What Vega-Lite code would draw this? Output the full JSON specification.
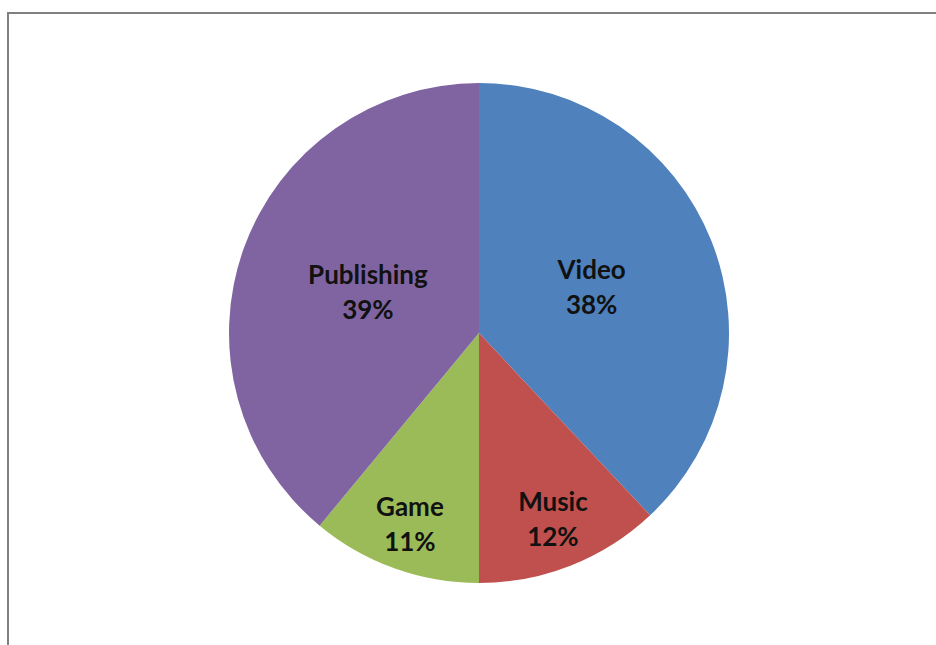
{
  "$schema": "https://vega.github.io/schema/vega-lite/v6.json",
  "width": 942,
  "height": 640,
  "autosize": {"type": "none"},
  "padding": {"left": 8, "top": 13, "right": 0, "bottom": 0},
  "background": "white",
  "view": {"stroke": "#808080", "strokeWidth": 2, "fill": "white"},
  "data": {"values": [
    {"category": "Video", "pct": 0.38},
    {"category": "Music", "pct": 0.12},
    {"category": "Game", "pct": 0.11},
    {"category": "Publishing", "pct": 0.39}
  ]},
  "transform": [{"window": [{"op": "row_number", "as": "idx"}]}],
  "encoding": {
    "theta": {"field": "pct", "type": "quantitative", "stack": true},
    "order": {"field": "idx", "type": "quantitative", "sort": "ascending"}
  },
  "layer": [
    {
      "mark": {"type": "arc", "outerRadius": 250},
      "encoding": {
        "color": {
          "field": "category", "type": "nominal",
          "scale": {"domain": ["Video", "Music", "Game", "Publishing"], "range": ["#4F81BD", "#C0504D", "#9BBB59", "#8064A2"]},
          "legend": null
        }
      }
    },
    {
      "mark": {"type": "text", "font": "Lato", "fontWeight": "bold", "fontSize": 26, "dy": -17, "fill": "#111111"},
      "encoding": {
        "radius": {"field": "pct", "type": "quantitative", "scale": {"type": "linear", "zero": false, "domain": [0.1, 0.4], "range": [207, 115]}},
        "text": {"field": "category"}
      }
    },
    {
      "mark": {"type": "text", "font": "Lato", "fontWeight": "bold", "fontSize": 26, "dy": 18, "fill": "#111111"},
      "encoding": {
        "radius": {"field": "pct", "type": "quantitative", "scale": {"type": "linear", "zero": false, "domain": [0.1, 0.4], "range": [207, 115]}},
        "text": {"field": "pct", "format": ".0%"}
      }
    }
  ]
}
